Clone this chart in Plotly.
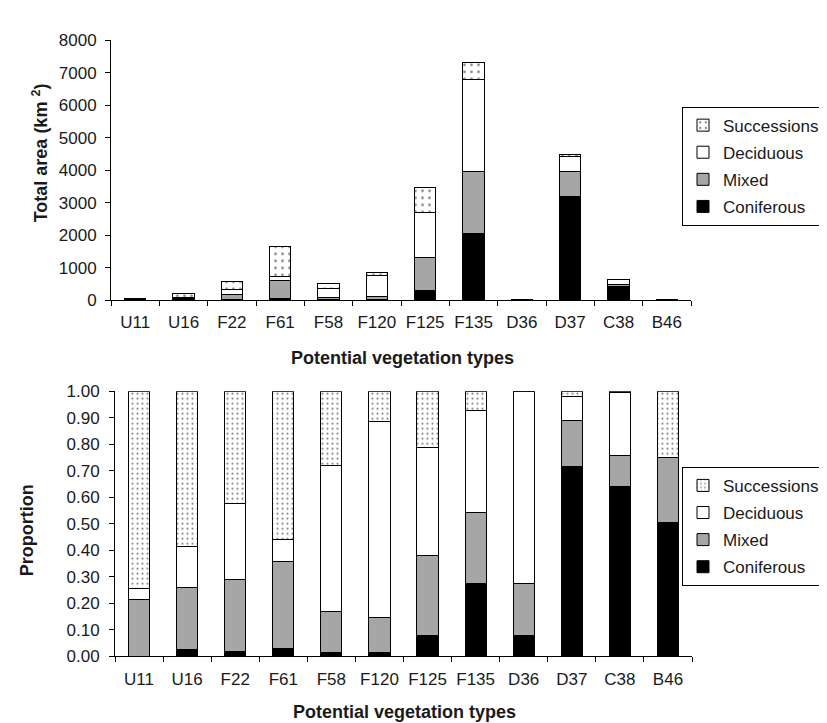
import plotly.graph_objects as go

categories = ["U11", "U16", "F22", "F61", "F58", "F120", "F125", "F135", "D36", "D37", "C38", "B46"]

# Top chart: total area (km2) per forest type
area_coniferous = [0, 5, 10, 50, 8, 13, 300, 2045, 2, 3200, 415, 1]
area_mixed = [7, 45, 155, 550, 78, 111, 1020, 1915, 6, 760, 75, 0.5]
area_deciduous = [1, 30, 160, 140, 275, 632, 1375, 2830, 22, 450, 155, 0]
area_successions = [25, 115, 245, 925, 140, 98, 760, 530, 0, 70, 2, 0.5]

# Bottom chart: proportion per forest type
prop_coniferous = [0, 0.027, 0.018, 0.031, 0.015, 0.015, 0.080, 0.275, 0.080, 0.716, 0.641, 0.504]
prop_mixed = [0.214, 0.234, 0.273, 0.326, 0.156, 0.130, 0.302, 0.266, 0.194, 0.174, 0.115, 0.247]
prop_deciduous = [0.043, 0.155, 0.284, 0.083, 0.549, 0.740, 0.404, 0.387, 0.726, 0.089, 0.241, 0]
prop_successions = [0.743, 0.584, 0.425, 0.560, 0.280, 0.115, 0.214, 0.072, 0, 0.021, 0.003, 0.249]

series_names = ["Coniferous", "Mixed", "Deciduous", "Successions"]
series_colors = ["#000000", "#A6A6A6", "#FFFFFF", "#FFFFFF"]
legend_ranks = [4, 3, 2, 1]
area_values = [area_coniferous, area_mixed, area_deciduous, area_successions]
prop_values = [prop_coniferous, prop_mixed, prop_deciduous, prop_successions]

W, H = 827, 723
TXT = "#1a1a1a"
FONT = "Liberation Sans, Arial, sans-serif"

fig = go.Figure()
for name, color, rank, a, p in zip(series_names, series_colors, legend_ranks, area_values, prop_values):
    dotted = name == "Successions"
    fig.add_trace(go.Bar(
        x=categories, y=a, name=name, xaxis="x", yaxis="y",
        legend="legend", legendgroup=name + "_top", legendrank=rank,
        marker=dict(color=color, line=dict(color="black", width=1),
                    pattern=dict(shape="." if dotted else "", fgcolor="black",
                                 bgcolor="white", size=7, solidity=0.12)),
    ))
    fig.add_trace(go.Bar(
        x=categories, y=p, name=name, xaxis="x2", yaxis="y2",
        legend="legend2", legendgroup=name + "_bot", legendrank=rank,
        marker=dict(color=color, line=dict(color="black", width=1),
                    pattern=dict(shape="." if dotted else "", fgcolor="black",
                                 bgcolor="white", size=5, solidity=0.15)),
    ))

axis_common = dict(showline=True, linecolor="black", linewidth=1, ticks="outside",
                   ticklen=5, tickcolor="black", tickwidth=1, showgrid=False,
                   zeroline=False, tickfont=dict(size=17, color=TXT, family=FONT))

legend_common = dict(xanchor="left", yanchor="top", bordercolor="black", borderwidth=1,
                     bgcolor="white", font=dict(size=17, color=TXT, family=FONT),
                     traceorder="grouped", tracegroupgap=2)

title_font = dict(size=18, color=TXT, family=FONT)

fig.update_layout(
    width=W, height=H, margin=dict(l=0, r=0, t=0, b=0),
    paper_bgcolor="white", plot_bgcolor="white",
    barmode="stack", bargap=0.56,
    font=dict(family=FONT, color=TXT),
    xaxis=dict(domain=[103 / W, 683 / W], anchor="y", type="category",
               tickson="boundaries", ticklabelstandoff=7, **axis_common),
    yaxis=dict(domain=[1 - 290.7 / H, 1 - 24 / H], anchor="x", range=[0, 8000],
               dtick=1000, ticklabelstandoff=5, **axis_common),
    xaxis2=dict(domain=[107 / W, 684 / W], anchor="y2", type="category",
                tickson="boundaries", ticklabelstandoff=7, **axis_common),
    yaxis2=dict(domain=[1 - 656.7 / H, 1 - 384.3 / H], anchor="x2", range=[0, 1],
                dtick=0.1, tickformat=".2f", ticklabelstandoff=6, **axis_common),
    legend=dict(x=674 / W, y=1 - 92 / H, **legend_common),
    legend2=dict(x=674 / W, y=1 - 462 / H, **legend_common),
    annotations=[
        dict(text="<b>Total area (km <sup>2</sup>)</b>", x=32 / W, y=1 - 140 / H,
             xref="paper", yref="paper", textangle=-90, showarrow=False,
             xanchor="center", yanchor="middle", font=title_font),
        dict(text="<b>Potential vegetation types</b>", x=394 / W, y=1 - 350 / H,
             xref="paper", yref="paper", showarrow=False,
             xanchor="center", yanchor="middle", font=title_font),
        dict(text="<b>Proportion</b>", x=19 / W, y=1 - 527 / H,
             xref="paper", yref="paper", textangle=-90, showarrow=False,
             xanchor="center", yanchor="middle", font=title_font),
        dict(text="<b>Potential vegetation types</b>", x=396 / W, y=1 - 714 / H,
             xref="paper", yref="paper", showarrow=False,
             xanchor="center", yanchor="middle", font=title_font),
    ],
)

fig.write_html("out.html")
